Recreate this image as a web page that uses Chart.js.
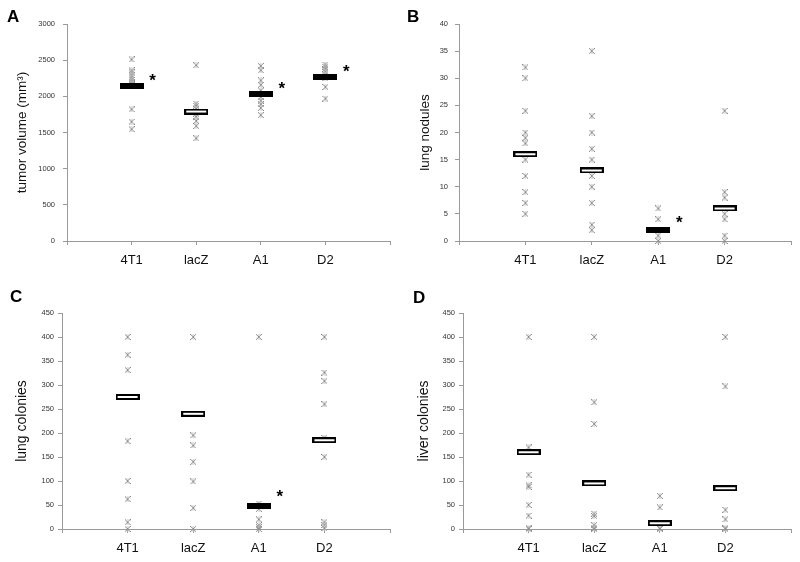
<!DOCTYPE html>
<html>
<head>
<meta charset="utf-8">
<script src="https://cdn.jsdelivr.net/npm/chart.js@4"></script>
<style>
  body { margin: 0; background: #fff; }
  #wrap { position: relative; width: 800px; height: 562px; }
  canvas { position: absolute; }
</style>
</head>
<body>
<div id="wrap">
  <canvas id="panelA" width="400" height="281" style="left:0;top:0"></canvas>
  <canvas id="panelB" width="400" height="281" style="left:400px;top:0"></canvas>
  <canvas id="panelC" width="400" height="281" style="left:0;top:281px"></canvas>
  <canvas id="panelD" width="400" height="281" style="left:400px;top:281px"></canvas>
</div>
<script>
const categories = ["4T1", "lacZ", "A1", "D2"];

// A: tumor volume (mm3), one list per category
const tumorVolume = [
  [2510, 2360, 2330, 2290, 2260, 2230, 2200, 2170, 1820, 1650, 1545],
  [2430, 1900, 1870, 1830, 1760, 1720, 1660, 1590, 1420],
  [2420, 2360, 2220, 2160, 2080, 1990, 1940, 1890, 1840, 1740],
  [2440, 2410, 2380, 2340, 2300, 2250, 2130, 1970],
];
const tumorMean = [2140, 1790, 2030, 2270];
const tumorSig = [true, false, true, true];

// B: lung nodules
const lungNodules = [
  [32, 30, 24, 20, 19, 18, 15, 12, 9, 7, 5],
  [35, 23, 20, 17, 15, 12, 10, 7, 3, 2],
  [6, 4, 2, 1, 0],
  [24, 9, 8, 5, 4, 1, 0],
];
const nodulesMean = [16, 13, 2, 6];
const nodulesSig = [false, false, true, false];

// C: lung colonies
const lungColonies = [
  [400, 363, 331, 183, 100, 62, 14, 0],
  [400, 195, 174, 140, 99, 44, 0],
  [400, 53, 42, 20, 8, 4, 0],
  [400, 326, 308, 260, 190, 150, 14, 8, 2],
];
const lungColMean = [275, 240, 48, 185];
const lungColSig = [false, false, true, false];

// D: liver colonies
const liverColonies = [
  [400, 170, 113, 91, 88, 50, 28, 2, 0],
  [400, 264, 219, 32, 27, 8, 3, 0],
  [69, 45, 2, 0],
  [400, 297, 40, 20, 2, 0],
];
const liverMean = [160, 95, 12, 85];
const liverSig = [false, false, false, false];

const family = "'Liberation Sans', Arial, sans-serif";
const axisGray = "#9a9a9a";

// excel-like star marker (x with vertical stroke)
function makeStar(size) {
  const c = document.createElement("canvas");
  c.width = size;
  c.height = size;
  const g = c.getContext("2d");
  g.lineWidth = 1;
  g.strokeStyle = "#c4c4c4";
  g.beginPath();
  g.moveTo(size / 2, 0);
  g.lineTo(size / 2, size);
  g.stroke();
  g.strokeStyle = "#8f8f8f";
  g.beginPath();
  g.moveTo(0, 0);
  g.lineTo(size, size);
  g.moveTo(size, 0);
  g.lineTo(0, size);
  g.stroke();
  return c;
}

function makeBar(filled) {
  const c = document.createElement("canvas");
  c.width = 24;
  c.height = 6;
  const g = c.getContext("2d");
  if (filled) {
    g.fillStyle = "#000";
    g.fillRect(0, 0, 24, 6);
  } else {
    g.fillStyle = "#fff";
    g.fillRect(0, 0, 24, 6);
    g.strokeStyle = "#000";
    g.lineWidth = 2;
    g.strokeRect(1, 1, 22, 4);
  }
  return c;
}

const starMark = makeStar(6);
const barFilled = makeBar(true);
const barOpen = makeBar(false);

function makePanel(id, o) {
  const points = [];
  o.values.forEach((list, i) => list.forEach((v) => points.push({ x: i + 1, y: v })));
  const means = o.means.map((m, i) => ({ x: i + 1, y: m }));

  const marks = {
    id: "marks",
    afterDraw(chart) {
      const ctx = chart.ctx;
      ctx.save();
      ctx.fillStyle = "#000";
      ctx.textBaseline = "alphabetic";
      ctx.textAlign = "left";
      ctx.font = "bold 17px " + family;
      ctx.fillText(o.letter, o.lx, o.ly);
      ctx.textAlign = "center";
      o.sig.forEach((s, i) => {
        if (!s) return;
        const px = chart.scales.x.getPixelForValue(i + 1) + 21;
        const py = chart.scales.y.getPixelForValue(o.means[i]) - o.dy;
        ctx.fillText("*", px, py + 8);
      });
      ctx.restore();
    },
  };

  return new Chart(document.getElementById(id), {
    type: "scatter",
    data: {
      datasets: [
        {
          data: means,
          order: 0,
          pointStyle: (c) => (o.sig[c.dataIndex] ? barFilled : barOpen),
          pointRadius: 3,
          clip: false,
        },
        {
          data: points,
          order: 1,
          pointStyle: starMark,
          pointRadius: 3,
          clip: false,
        },
      ],
    },
    options: {
      responsive: false,
      animation: false,
      events: [],
      layout: { padding: o.pad },
      plugins: {
        legend: { display: false },
        tooltip: { enabled: false },
      },
      scales: {
        x: {
          type: "linear",
          min: 0,
          max: 5,
          afterFit: (s) => { s.height = 30; },
          border: { color: axisGray },
          grid: { drawOnChartArea: false, tickLength: 4, color: axisGray },
          ticks: {
            stepSize: 1,
            autoSkip: false,
            maxRotation: 0,
            padding: 8,
            color: "#111",
            font: { family, size: 13 },
            callback: (v) => categories[v - 1] || "",
          },
        },
        y: {
          min: 0,
          max: o.max,
          afterFit: (s) => { s.width = o.yWidth; },
          border: { color: axisGray },
          grid: { drawOnChartArea: false, tickLength: 4, color: axisGray },
          ticks: {
            stepSize: o.step,
            padding: o.tickPad,
            color: "#333",
            font: { family, size: 7.5 },
            callback: (v) => String(v),
          },
          title: {
            display: true,
            text: o.title,
            color: "#111",
            font: { family, size: o.titleSize },
          },
        },
      },
    },
    plugins: [marks],
  });
}

makePanel("panelA", {
  values: tumorVolume, means: tumorMean, sig: tumorSig,
  max: 3000, step: 500, title: "tumor volume (mm³)", titleSize: 13.5,
  pad: { left: 10, top: 24, right: 10, bottom: 10 }, yWidth: 57, tickPad: 8,
  letter: "A", lx: 7, ly: 22, dy: 8,
});

makePanel("panelB", {
  values: lungNodules, means: nodulesMean, sig: nodulesSig,
  max: 40, step: 5, title: "lung nodules", titleSize: 13.5,
  pad: { left: 13, top: 24, right: 9, bottom: 10 }, yWidth: 46, tickPad: 7,
  letter: "B", lx: 7, ly: 22, dy: 10,
});

makePanel("panelC", {
  values: lungColonies, means: lungColMean, sig: lungColSig,
  max: 450, step: 50, title: "lung colonies", titleSize: 14,
  pad: { left: 10, top: 32, right: 10, bottom: 3 }, yWidth: 52, tickPad: 4,
  letter: "C", lx: 10, ly: 21, dy: 12,
});

makePanel("panelD", {
  values: liverColonies, means: liverMean, sig: liverSig,
  max: 450, step: 50, title: "liver colonies", titleSize: 14,
  pad: { left: 12, top: 32, right: 9, bottom: 3 }, yWidth: 51, tickPad: 4,
  letter: "D", lx: 13, ly: 22, dy: 10,
});
</script>
</body>
</html>
